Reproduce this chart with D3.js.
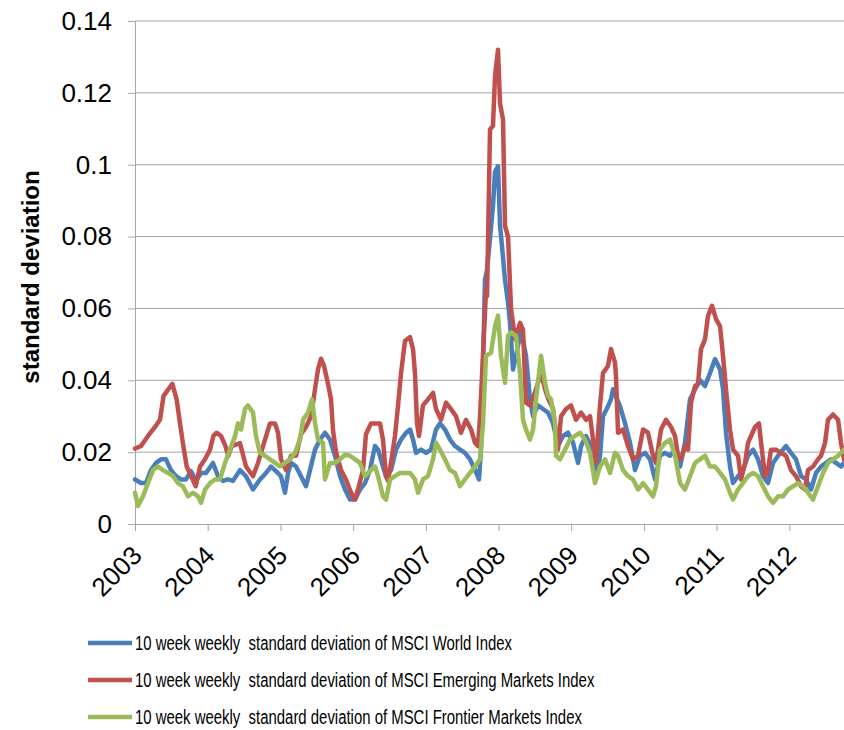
<!DOCTYPE html>
<html>
<head>
<meta charset="utf-8">
<script src="https://cdn.jsdelivr.net/npm/d3@7/dist/d3.min.js"></script>
<style>
  html, body { margin: 0; padding: 0; background: #fff; }
  svg { display: block; font-family: "Liberation Sans", Arial, sans-serif; }
  .legend-label { white-space: pre; }
</style>
</head>
<body>
<svg id="chart" width="844" height="730"></svg>
<script>
// 10-week rolling weekly standard deviation, [decimal year, value]
const worldIndex = [
  [2003.0,0.0124],[2003.083,0.0114],[2003.151,0.0114],[2003.220,0.015],[2003.289,0.017],[2003.358,0.018],[2003.426,0.018],[2003.495,0.015],[2003.564,0.0133],[2003.633,0.0124],[2003.702,0.0124],[2003.770,0.0147],[2003.839,0.012],[2003.908,0.0142],[2003.977,0.0142],
  [2004.073,0.017],[2004.142,0.0133],[2004.210,0.012],[2004.279,0.0124],[2004.348,0.012],[2004.444,0.015],[2004.527,0.0133],[2004.623,0.0096],[2004.719,0.0124],[2004.802,0.0142],[2004.871,0.016],[2004.939,0.0147],
  [2005.008,0.0133],[2005.063,0.0087],[2005.105,0.0142],[2005.146,0.017],[2005.215,0.016],[2005.283,0.0133],[2005.352,0.0105],[2005.407,0.015],[2005.476,0.0207],[2005.545,0.0235],[2005.613,0.0254],[2005.682,0.0235],[2005.751,0.019],[2005.820,0.0133],[2005.889,0.0096],[2005.957,0.0068],
  [2006.026,0.0068],[2006.095,0.0096],[2006.164,0.0114],[2006.232,0.015],[2006.301,0.0217],[2006.343,0.0207],[2006.411,0.016],[2006.453,0.0133],[2006.521,0.015],[2006.590,0.0207],[2006.659,0.0235],[2006.728,0.0254],[2006.783,0.0263],[2006.824,0.0235],[2006.865,0.0198],[2006.934,0.0207],
  [2007.003,0.0198],[2007.072,0.0207],[2007.140,0.0263],[2007.195,0.028],[2007.264,0.0263],[2007.333,0.0235],[2007.402,0.0217],[2007.470,0.0207],[2007.539,0.0198],[2007.608,0.018],[2007.677,0.015],[2007.732,0.0124],[2007.759,0.0207],[2007.814,0.068],[2007.842,0.0706],[2007.924,0.0885],[2007.952,0.098],[2007.993,0.0996],
  [2008.021,0.083],[2008.048,0.0773],[2008.089,0.068],[2008.131,0.0616],[2008.158,0.056],[2008.199,0.043],[2008.241,0.0468],[2008.310,0.054],[2008.378,0.0468],[2008.433,0.0347],[2008.475,0.030],[2008.543,0.033],[2008.612,0.032],[2008.681,0.031],[2008.750,0.028],[2008.818,0.0217],[2008.887,0.0245],[2008.956,0.0254],
  [2009.025,0.0226],[2009.094,0.017],[2009.135,0.0217],[2009.204,0.0245],[2009.272,0.0217],[2009.341,0.0133],[2009.396,0.019],[2009.437,0.030],[2009.506,0.0328],[2009.547,0.0347],[2009.575,0.0375],[2009.671,0.0328],[2009.740,0.028],[2009.809,0.0226],[2009.878,0.015],[2009.946,0.019],
  [2010.015,0.0198],[2010.084,0.018],[2010.153,0.0124],[2010.221,0.019],[2010.290,0.0198],[2010.359,0.019],[2010.428,0.0207],[2010.497,0.016],[2010.565,0.0226],[2010.634,0.0347],[2010.703,0.0375],[2010.772,0.040],[2010.840,0.0384],[2010.909,0.042],[2010.978,0.0459],
  [2011.047,0.043],[2011.088,0.0375],[2011.129,0.0254],[2011.184,0.016],[2011.226,0.0114],[2011.294,0.0133],[2011.363,0.015],[2011.432,0.019],[2011.501,0.0207],[2011.570,0.018],[2011.638,0.0133],[2011.707,0.0114],[2011.776,0.017],[2011.845,0.019],[2011.913,0.0207],[2011.955,0.0217],
  [2012.023,0.0198],[2012.092,0.018],[2012.161,0.0133],[2012.230,0.0124],[2012.298,0.0096],[2012.367,0.0142],[2012.436,0.016],[2012.505,0.017],[2012.574,0.018],[2012.642,0.017],[2012.711,0.016],[2012.752,0.017]
];

const emergingIndex = [
  [2003.0,0.021],[2003.083,0.0217],[2003.179,0.0245],[2003.275,0.027],[2003.344,0.029],[2003.392,0.0356],[2003.459,0.0375],[2003.514,0.039],[2003.573,0.0347],[2003.619,0.028],[2003.665,0.0217],[2003.711,0.016],[2003.780,0.013],[2003.835,0.0105],[2003.894,0.016],[2003.963,0.018],
  [2004.032,0.0207],[2004.078,0.0245],[2004.124,0.0254],[2004.183,0.0245],[2004.238,0.022],[2004.284,0.019],[2004.330,0.0217],[2004.444,0.0225],[2004.527,0.016],[2004.623,0.0133],[2004.692,0.017],[2004.761,0.0217],[2004.857,0.028],[2004.926,0.028],[2004.967,0.0254],
  [2005.008,0.018],[2005.077,0.015],[2005.146,0.019],[2005.215,0.019],[2005.283,0.025],[2005.352,0.027],[2005.421,0.030],[2005.476,0.0375],[2005.517,0.043],[2005.558,0.046],[2005.600,0.044],[2005.655,0.039],[2005.696,0.0347],[2005.724,0.026],[2005.765,0.020],[2005.834,0.015],[2005.902,0.0124],[2005.971,0.0087],
  [2006.026,0.0068],[2006.067,0.0096],[2006.136,0.015],[2006.177,0.025],[2006.246,0.028],[2006.301,0.028],[2006.370,0.028],[2006.411,0.0235],[2006.453,0.0133],[2006.480,0.012],[2006.521,0.017],[2006.576,0.0245],[2006.618,0.033],[2006.659,0.042],[2006.714,0.051],[2006.783,0.052],[2006.824,0.0487],[2006.851,0.042],[2006.879,0.028],[2006.906,0.0245],[2006.961,0.033],
  [2007.030,0.0347],[2007.099,0.0365],[2007.140,0.032],[2007.209,0.029],[2007.278,0.0338],[2007.346,0.032],[2007.415,0.030],[2007.484,0.0254],[2007.553,0.029],[2007.622,0.0263],[2007.677,0.0226],[2007.718,0.0217],[2007.746,0.030],[2007.787,0.047],[2007.828,0.065],[2007.842,0.0634],[2007.883,0.1098],[2007.924,0.1108],[2007.952,0.1247],[2007.993,0.132],
  [2008.021,0.117],[2008.062,0.1126],[2008.089,0.083],[2008.131,0.080],[2008.172,0.060],[2008.227,0.0514],[2008.296,0.056],[2008.337,0.054],[2008.378,0.0338],[2008.433,0.033],[2008.475,0.035],[2008.516,0.0375],[2008.585,0.042],[2008.640,0.0375],[2008.681,0.035],[2008.750,0.032],[2008.818,0.0207],[2008.860,0.030],[2008.928,0.032],[2008.997,0.033],
  [2009.066,0.029],[2009.135,0.031],[2009.204,0.029],[2009.259,0.030],[2009.300,0.0235],[2009.341,0.017],[2009.396,0.033],[2009.437,0.042],[2009.506,0.044],[2009.547,0.0487],[2009.602,0.045],[2009.616,0.041],[2009.644,0.0254],[2009.713,0.0263],[2009.781,0.0217],[2009.850,0.018],[2009.919,0.019],[2009.988,0.0263],
  [2010.056,0.0254],[2010.125,0.019],[2010.166,0.017],[2010.235,0.0263],[2010.304,0.029],[2010.373,0.027],[2010.428,0.0245],[2010.469,0.019],[2010.510,0.018],[2010.565,0.0217],[2010.607,0.0207],[2010.648,0.0338],[2010.703,0.0384],[2010.744,0.039],[2010.785,0.0487],[2010.840,0.0514],[2010.882,0.058],[2010.937,0.0607],[2010.992,0.057],
  [2011.047,0.055],[2011.088,0.0468],[2011.129,0.0375],[2011.184,0.0263],[2011.226,0.0207],[2011.294,0.019],[2011.336,0.0124],[2011.391,0.017],[2011.432,0.0226],[2011.473,0.0245],[2011.528,0.027],[2011.583,0.028],[2011.611,0.0226],[2011.666,0.0133],[2011.707,0.015],[2011.748,0.0207],[2011.817,0.0207],[2011.886,0.0198],[2011.955,0.019],
  [2012.023,0.015],[2012.092,0.0133],[2012.161,0.0105],[2012.216,0.0096],[2012.257,0.015],[2012.326,0.016],[2012.395,0.018],[2012.436,0.019],[2012.491,0.0226],[2012.532,0.029],[2012.601,0.0305],[2012.670,0.029],[2012.711,0.0226],[2012.752,0.018]
];

const frontierIndex = [
  [2003.0,0.0087],[2003.041,0.005],[2003.110,0.0077],[2003.179,0.0114],[2003.248,0.015],[2003.316,0.016],[2003.385,0.015],[2003.454,0.0142],[2003.523,0.0133],[2003.591,0.0114],[2003.660,0.0105],[2003.729,0.0077],[2003.798,0.0087],[2003.867,0.0077],[2003.908,0.0059],[2003.963,0.0096],
  [2004.032,0.0114],[2004.100,0.0124],[2004.169,0.0124],[2004.238,0.017],[2004.307,0.0207],[2004.376,0.0245],[2004.417,0.028],[2004.458,0.0263],[2004.513,0.032],[2004.554,0.033],[2004.623,0.031],[2004.664,0.0245],[2004.719,0.0198],[2004.788,0.019],[2004.857,0.018],[2004.926,0.017],[2004.994,0.016],
  [2005.063,0.017],[2005.132,0.018],[2005.201,0.0198],[2005.270,0.0235],[2005.311,0.029],[2005.380,0.031],[2005.435,0.0347],[2005.476,0.028],[2005.517,0.0235],[2005.586,0.0226],[2005.613,0.0124],[2005.682,0.017],[2005.751,0.017],[2005.820,0.018],[2005.889,0.0193],[2005.957,0.019],
  [2006.026,0.018],[2006.095,0.017],[2006.164,0.0133],[2006.232,0.0147],[2006.301,0.016],[2006.343,0.0133],[2006.411,0.0077],[2006.453,0.0068],[2006.508,0.0124],[2006.576,0.0133],[2006.645,0.0142],[2006.714,0.0142],[2006.783,0.0142],[2006.851,0.0124],[2006.893,0.0087],[2006.961,0.0124],
  [2007.030,0.0133],[2007.099,0.018],[2007.140,0.0226],[2007.195,0.0207],[2007.264,0.018],[2007.333,0.015],[2007.402,0.0142],[2007.470,0.0105],[2007.539,0.0124],[2007.608,0.0142],[2007.677,0.016],[2007.746,0.018],[2007.787,0.028],[2007.828,0.0468],[2007.897,0.0477],[2007.952,0.055],[2007.993,0.058],
  [2008.034,0.0468],[2008.089,0.0393],[2008.131,0.0524],[2008.172,0.0533],[2008.241,0.0524],[2008.296,0.042],[2008.337,0.029],[2008.378,0.0263],[2008.433,0.0235],[2008.475,0.0263],[2008.516,0.0347],[2008.585,0.0468],[2008.640,0.0393],[2008.681,0.0356],[2008.722,0.0347],[2008.777,0.028],[2008.791,0.019],[2008.846,0.018],[2008.915,0.0207],[2008.983,0.0235],
  [2009.052,0.0245],[2009.121,0.0254],[2009.190,0.0235],[2009.259,0.0198],[2009.327,0.0114],[2009.396,0.016],[2009.465,0.018],[2009.534,0.0142],[2009.602,0.0198],[2009.644,0.019],[2009.713,0.015],[2009.781,0.0133],[2009.850,0.0124],[2009.919,0.0096],[2009.988,0.0114],
  [2010.056,0.0096],[2010.125,0.0077],[2010.166,0.0105],[2010.221,0.0207],[2010.290,0.0226],[2010.359,0.0235],[2010.428,0.019],[2010.497,0.0114],[2010.565,0.0096],[2010.634,0.0133],[2010.703,0.017],[2010.772,0.018],[2010.840,0.019],[2010.909,0.016],[2010.978,0.016],
  [2011.047,0.0142],[2011.116,0.0124],[2011.184,0.0087],[2011.226,0.0068],[2011.294,0.0096],[2011.363,0.0114],[2011.432,0.0133],[2011.501,0.0142],[2011.570,0.0133],[2011.638,0.0105],[2011.707,0.0077],[2011.776,0.0059],[2011.845,0.0077],[2011.913,0.0077],[2011.982,0.0096],
  [2012.051,0.0105],[2012.120,0.0114],[2012.188,0.0105],[2012.257,0.0087],[2012.326,0.0068],[2012.395,0.0105],[2012.464,0.0142],[2012.532,0.017],[2012.601,0.018],[2012.670,0.019],[2012.752,0.0207]
];

const yearTicks = [2003, 2004, 2005, 2006, 2007, 2008, 2009, 2010, 2011, 2012];
const valueTicks = [0, 0.02, 0.04, 0.06, 0.08, 0.1, 0.12, 0.14];
const seriesNames = [
  "10 week weekly  standard deviation of MSCI World Index",
  "10 week weekly  standard deviation of MSCI Emerging Markets Index",
  "10 week weekly  standard deviation of MSCI Frontier Markets Index"
];
const seriesColors = ["#4a7ebb", "#c0504d", "#9bbb59"];
const yTitle = "standard deviation";

const svg = d3.select("#chart");
const plot = { left: 135, right: 844, top: 21, bottom: 524 };
const tickFont = "'Liberation Sans', Arial, sans-serif";

const x = d3.scaleLinear().domain([2003, 2012.752]).range([plot.left, plot.right]);
const y = d3.scaleLinear().domain([0, 0.14]).range([plot.bottom, plot.top]);

// horizontal gridlines
svg.append("g")
  .selectAll("line")
  .data(valueTicks.filter(v => v > 0))
  .join("line")
  .attr("x1", plot.left).attr("x2", plot.right)
  .attr("y1", d => y(d)).attr("y2", d => y(d))
  .attr("stroke", "#a6a6a6").attr("stroke-width", 1);

// y axis
const yAxis = svg.append("g")
  .attr("transform", `translate(${plot.left},0)`)
  .call(d3.axisLeft(y).tickValues(valueTicks).tickSize(7).tickPadding(16)
    .tickFormat(d => String(+d.toFixed(2))));
yAxis.select(".domain").attr("stroke", "#a6a6a6");
yAxis.selectAll(".tick line").attr("stroke", "#a6a6a6");
yAxis.selectAll(".tick text")
  .attr("fill", "#000").style("font-size", "26px")
  .style("font-family", tickFont);

// x axis with slanted year labels
const xAxis = svg.append("g")
  .attr("transform", `translate(0,${plot.bottom})`)
  .call(d3.axisBottom(x).tickValues(yearTicks).tickSize(7).tickFormat(d3.format("d")));
xAxis.select(".domain").attr("stroke", "#a6a6a6");
xAxis.selectAll(".tick line").attr("stroke", "#a6a6a6");
xAxis.selectAll(".tick text")
  .attr("fill", "#000").style("font-size", "26px")
  .style("font-family", tickFont)
  .attr("text-anchor", "end")
  .attr("dy", null)
  .attr("y", 0)
  .attr("transform", "translate(8,33) rotate(-45)");

// series lines
const line = d3.line().x(d => x(d[0])).y(d => y(d[1]));
[worldIndex, emergingIndex, frontierIndex].forEach((s, i) => {
  svg.append("path")
    .datum(s)
    .attr("d", line)
    .attr("fill", "none")
    .attr("stroke", seriesColors[i])
    .attr("stroke-width", 4.5)
    .attr("stroke-linejoin", "round")
    .attr("stroke-linecap", "round");
});

// y axis title
svg.append("text")
  .attr("transform", "translate(39,277) rotate(-90)")
  .attr("text-anchor", "middle")
  .style("font-size", "24px")
  .style("font-weight", "bold")
  .text(yTitle);

// legend
const legend = svg.append("g").attr("transform", "translate(0,643)");
const rows = legend.selectAll("g").data(seriesNames).join("g")
  .attr("transform", (d, i) => `translate(0,${i * 37})`);
rows.append("line")
  .attr("x1", 88).attr("x2", 132)
  .attr("stroke", (d, i) => seriesColors[i])
  .attr("stroke-width", 4.5);
const labels = rows.append("text")
  .attr("class", "legend-label")
  .attr("x", 135).attr("dy", "0.36em")
  .style("font-size", "20px")
  .text(d => d);
const squeeze = 377 / labels.node().getComputedTextLength();
labels.each(function () {
  const w = this.getComputedTextLength();
  d3.select(this).attr("textLength", w * squeeze).attr("lengthAdjust", "spacingAndGlyphs");
});
</script>
</body>
</html>
